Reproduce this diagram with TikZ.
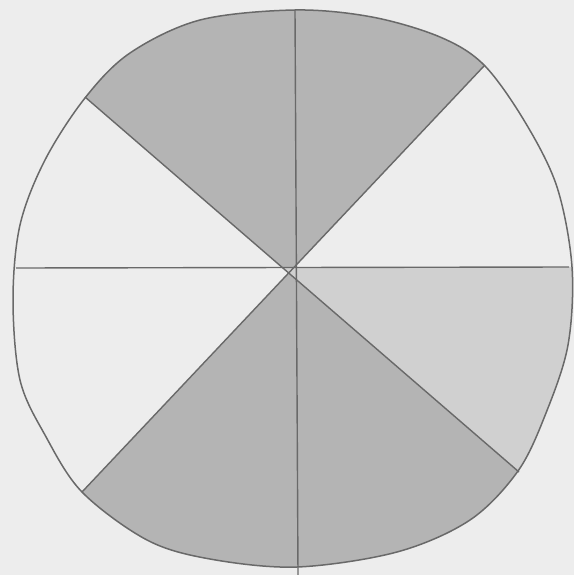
\documentclass[tikz,border=0pt]{standalone}
\usetikzlibrary{calc}
\definecolor{paper}{RGB}{237,237,237}
\definecolor{pencil}{RGB}{105,105,105}
\definecolor{shadedark}{RGB}{180,180,180}
\definecolor{shadelight}{RGB}{208,208,208}
\tikzset{
  rimpath/.style={insert path={plot[smooth cycle, tension=0.55] coordinates {
    (295,10) (372,17) (440,37) (484,65) (525,122) (557,187) (572,267)
    (568,345) (546,413) (518,471) (470,520) (397,552) (297,567) (210,559)
    (147,540) (82,492) (45,435) (20,380) (13,300) (20,225) (45,160)
    (85,98) (130,53) (200,20)}}},
  rimline/.style={draw=pencil, line width=1.5pt},
  spoke/.style={draw=pencil, line width=1.4pt},
  darksector/.style={fill=shadedark},
  lightsector/.style={fill=shadelight}
}
\begin{document}
\begin{tikzpicture}[x=1pt, y=-1pt]
  \fill[paper] (0,0) rectangle (574,575);
  \useasboundingbox (0,0) rectangle (574,575);

  \coordinate (n)  at (295,10);
  \coordinate (ne) at (484,66);
  \coordinate (e)  at (569,267);
  \coordinate (se) at (519,472);
  \coordinate (s)  at (298,575);
  \coordinate (sw) at (82,492);
  \coordinate (w)  at (16,268);
  \coordinate (nw) at (85,97);
  \coordinate (x)  at (intersection of nw--se and ne--sw);
  \coordinate (xe) at (intersection of nw--se and w--e);

  % shaded sectors
  \begin{scope}
    \clip[rimpath];
    \fill[darksector] (x) -- ($(se)!1.3!(nw)$) -- (295,-200) -- ($(sw)!1.3!(ne)$) -- cycle;
    \fill[lightsector] (xe) -- ($(w)!1.3!(e)$) -- ($(nw)!1.3!(se)$) -- cycle;
    \fill[darksector] (x) -- ($(nw)!1.3!(se)$) -- (298,800) -- ($(ne)!1.3!(sw)$) -- cycle;
  \end{scope}

  \draw[rimline, rimpath];

  \draw[spoke] (n) -- (s);
  \draw[spoke] (w) -- (e);
  \draw[spoke] (nw) -- (se);
  \draw[spoke] (ne) -- (sw);
\end{tikzpicture}
\end{document}
